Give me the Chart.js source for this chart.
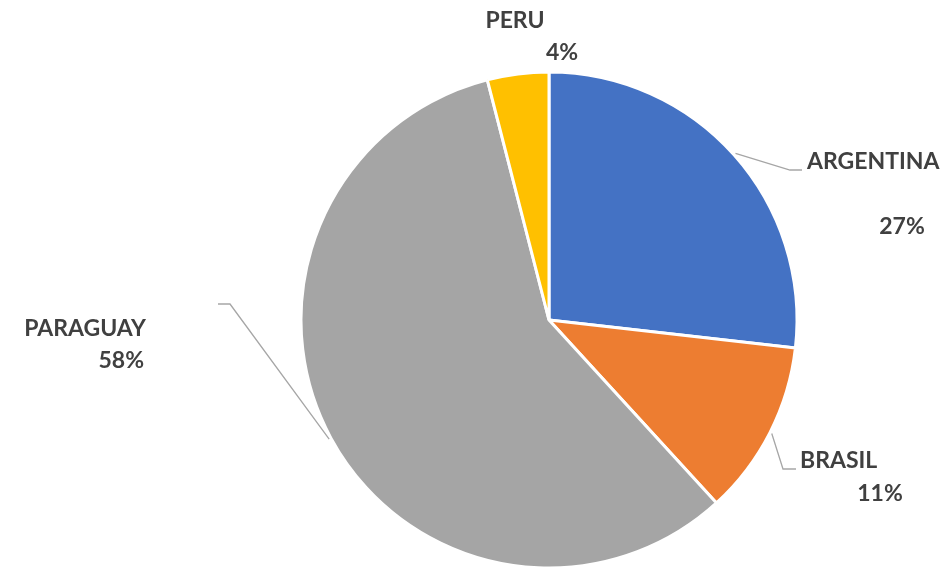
<!DOCTYPE html>
<html>
<head>
<meta charset="utf-8">
<script src="https://cdn.jsdelivr.net/npm/chart.js@4.4.0/dist/chart.umd.min.js"></script>
<style>
  html, body { margin:0; padding:0; background:#fff; }
  #wrap { width:948px; height:570px; }
</style>
</head>
<body>
<div id="wrap"><canvas id="pieChart" width="948" height="570"></canvas></div>
<script>
// ======================================
// DATA
// ======================================

const countries = ["ARGENTINA", "BRASIL", "PARAGUAY", "PERU"];
const shares = [26.8, 11.4, 57.8, 4.0];
const sliceColors = ["#4472C4", "#ED7D31", "#A5A5A5", "#FFC000"];

// label placement (px), leader elbow + text positions
const labelLayout = [
    { elbow:[790,170], end:[802,170], name:[807,162,"left"], pct:[902,227,"center"] },
    { elbow:[783,469], end:[796,469], name:[800,461,"left"], pct:[880,494,"center"] },
    { elbow:[230,304], end:[218,304], name:[146,329,"right"], pct:[144,361,"right"] },
    { elbow:null, end:null, name:[515,21,"center"], pct:[562,53,"center"] }
];

// ======================================
// LABEL PLUGIN
// ======================================

const pieLabels = {
    id:"pieLabels",
    afterDraw(chart){
        const ctx = chart.ctx;
        const arcs = chart.getDatasetMeta(0).data;
        const total = shares.reduce((a,b)=>a+b,0);

        ctx.save();
        arcs.forEach(function(arc, i){
            const lay = labelLayout[i];
            const mid = (arc.startAngle + arc.endAngle) / 2;
            const r = arc.outerRadius + 2;

            if(lay.elbow){
                ctx.strokeStyle = "#A6A6A6";
                ctx.lineWidth = 1.3;
                ctx.beginPath();
                ctx.moveTo(arc.x + Math.cos(mid) * r, arc.y + Math.sin(mid) * r);
                ctx.lineTo(lay.elbow[0], lay.elbow[1]);
                ctx.lineTo(lay.end[0], lay.end[1]);
                ctx.stroke();
            }

            ctx.fillStyle = "#404040";
            ctx.font = "bold 23px Lato";
            ctx.textBaseline = "middle";

            ctx.textAlign = lay.name[2];
            ctx.fillText(countries[i], lay.name[0], lay.name[1]);

            ctx.textAlign = lay.pct[2];
            ctx.fillText(Math.round(shares[i] / total * 100) + "%", lay.pct[0], lay.pct[1]);
        });
        ctx.restore();
    }
};

// ======================================
// PIE CHART
// ======================================

new Chart(document.getElementById("pieChart"),{

    type:"pie",

    data:{
        labels:countries,
        datasets:[{
            data:shares,
            backgroundColor:sliceColors,
            borderColor:"#ffffff",
            borderWidth:3
        }]
    },

    options:{
        responsive:false,
        animation:false,
        radius:248,
        layout:{
            padding:{ left:301, right:151, top:72, bottom:2 }
        },
        plugins:{
            legend:{ display:false },
            tooltip:{ enabled:false }
        }
    },

    plugins:[pieLabels]

});
</script>
</body>
</html>
